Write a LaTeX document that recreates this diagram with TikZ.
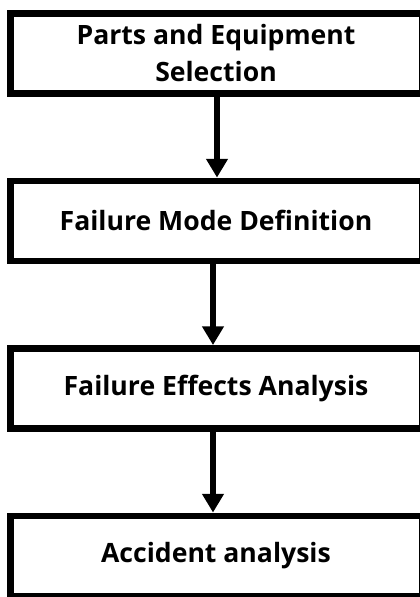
\documentclass[tikz,border=0pt]{standalone}
\usepackage{fontspec}
\setmainfont{Open Sans}
\usetikzlibrary{arrows.meta, positioning}

\begin{document}
\begin{tikzpicture}[
    x=1pt, y=1pt,
    node distance=81pt,
    block/.style={rectangle, draw=black, line width=6.5pt, minimum width=411.5pt, minimum height=80pt, align=center, font=\fontsize{26.6}{36.6}\selectfont\bfseries},
    arrow/.style={-{Triangle[width=20.7pt, length=18.6pt]}, line width=6.5pt, draw=black}
]
\useasboundingbox (0,0) rectangle (420,-597);
\node[block] (parts) at (216,-53.3) {Parts and Equipment\\Selection};
\node[block, below=of parts] (mode) {Failure Mode Definition};
\node[block, below=of mode] (effects) {Failure Effects Analysis};
\node[block, below=of effects] (accident) {Accident analysis};
\draw[arrow] ([xshift=1pt]parts.south) -- ([xshift=1pt]mode.north);
\draw[arrow] ([xshift=-3pt]mode.south) -- ([xshift=-3pt]effects.north);
\draw[arrow] ([xshift=-3pt]effects.south) -- ([xshift=-3pt]accident.north);
\end{tikzpicture}
\end{document}
